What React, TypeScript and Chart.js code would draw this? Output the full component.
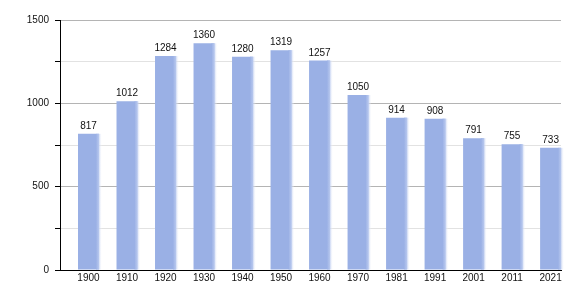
import React, { useEffect, useRef } from "react";
import { Chart, registerables } from "chart.js";

Chart.register(...registerables);

const years = ["1900", "1910", "1920", "1930", "1940", "1950", "1960", "1970", "1981", "1991", "2001", "2011", "2021"];
const population = [817, 1012, 1284, 1360, 1280, 1319, 1257, 1050, 914, 908, 791, 755, 733];
const yTickLabels = [0, 500, 1000, 1500];

const FONT = "'Liberation Sans', Arial, sans-serif";
const BAR = "#9ab0e5";

const barExtras = {
  id: "barExtras",
  afterDatasetsDraw(chart: any) {
    const ctx = chart.ctx;
    const meta = chart.getDatasetMeta(0);
    ctx.save();
    meta.data.forEach((bar: any, i: number) => {
      const right = bar.x + bar.width / 2;
      const g = ctx.createLinearGradient(right - 3, 0, right + 3, 0);
      g.addColorStop(0, "rgba(154,176,229,1)");
      g.addColorStop(0.5, "rgba(190,205,240,0.8)");
      g.addColorStop(1, "rgba(255,255,255,0)");
      ctx.fillStyle = g;
      ctx.fillRect(right - 3, bar.y, 6, bar.base - bar.y);
      ctx.fillStyle = "#111";
      ctx.font = "10px " + FONT;
      ctx.textAlign = "center";
      ctx.textBaseline = "alphabetic";
      ctx.fillText(String(population[i]), bar.x, bar.y - 5);
    });
    ctx.restore();
  },
};

export default function App() {
  const ref = useRef<HTMLCanvasElement>(null);
  useEffect(() => {
    if (!ref.current) return;
    const chart = new Chart(ref.current, {
      type: "bar",
      data: {
        datasets: [
          {
            data: population.map((v, i) => ({ x: i, y: v })),
            backgroundColor: BAR,
            borderWidth: 0,
            categoryPercentage: 1,
            barPercentage: 0.545,
          },
        ],
      },
      options: {
        animation: false,
        responsive: false,
        maintainAspectRatio: false,
        layout: { padding: { top: 20, right: 19, left: 0, bottom: 0 } },
        plugins: { legend: { display: false }, tooltip: { enabled: false } },
        scales: {
          x: {
            type: "linear",
            offset: false,
            min: -0.74,
            max: 12.27,
            afterBuildTicks: (axis: any) => {
              axis.ticks = years.map((_, i) => ({ value: i }));
            },
            afterFit: (scale: any) => {
              scale.height = 30;
            },
            ticks: {
              callback: (v: any) => years[v] ?? "",
              color: "#111",
              font: { family: FONT, size: 10 },
              maxRotation: 0,
              autoSkip: false,
              padding: 2,
            },
            grid: { display: false, drawTicks: false, offset: false },
            border: { display: true, color: "#000", width: 1 },
          },
          y: {
            min: 0,
            max: 1500,
            afterBuildTicks: (axis: any) => {
              axis.ticks = [0, 250, 500, 750, 1000, 1250, 1500].map((v) => ({ value: v }));
            },
            afterFit: (scale: any) => {
              scale.width = 60;
            },
            ticks: {
              callback: (v: any) => (yTickLabels.includes(v) ? String(v) : ""),
              color: "#111",
              font: { family: FONT, size: 10 },
              padding: 6,
            },
            grid: {
              color: (c: any) => (c.tick && c.tick.value % 500 === 0 ? "#b4b4b4" : "#e2e2e2"),
              tickColor: "#000",
              tickLength: 5,
              lineWidth: 1,
            },
            border: { display: true, color: "#000", width: 1 },
          },
        },
      },
      plugins: [barExtras],
    });
    return () => chart.destroy();
  }, []);
  return (
    <div style={{ position: "absolute", left: 0, top: 0, width: 580, height: 300, background: "#fff" }}>
      <canvas ref={ref} width={580} height={300} style={{ width: 580, height: 300 }} />
    </div>
  );
}
